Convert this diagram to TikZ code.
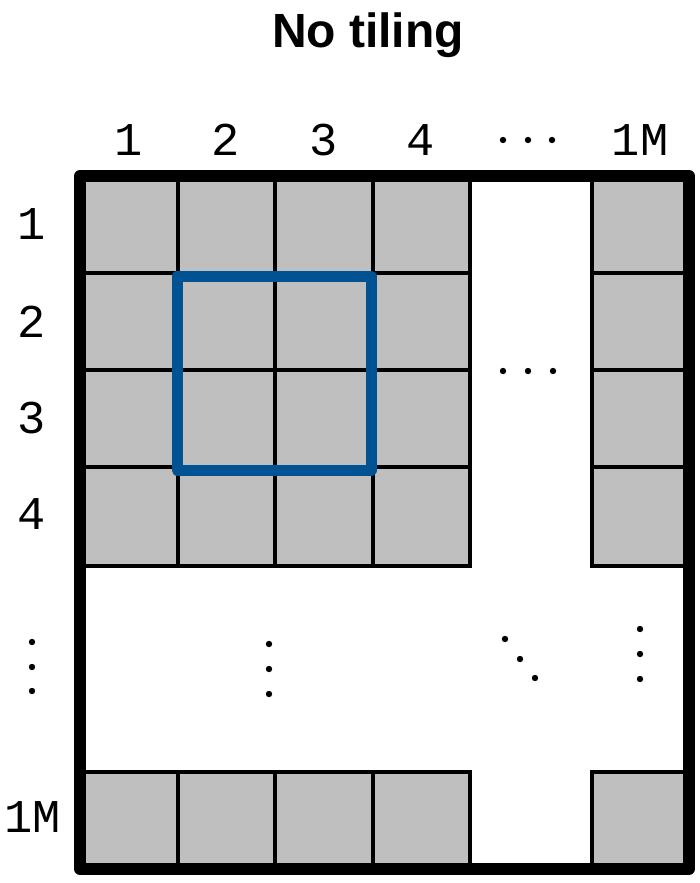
\documentclass[tikz,border=0pt]{standalone}
\usepackage{fontspec}
\setmainfont{Liberation Sans}
\setmonofont{Liberation Mono}
\definecolor{tileblue}{RGB}{0,82,147}
\definecolor{cellgray}{RGB}{191,191,191}
\begin{document}
\begin{tikzpicture}[x=1pt,y=-1pt,
  cell/.style={fill=cellgray,draw=black,line width=3.5pt},
  lbl/.style={font=\fontsize{47}{52}\selectfont\ttfamily,inner sep=0pt,anchor=base}]
\useasboundingbox (0,0) rectangle (699,883);
\node[font=\fontsize{48}{54}\selectfont\bfseries,inner sep=0pt,anchor=base] (title) at (368,48) {No tiling};
\foreach \xa/\xb in {80/178,178/275,275/373,373/470,592/689}
  \foreach \ya/\yb in {176/273,273/370,370/467,467/566,772/869}
    \filldraw[cell] (\xa,\ya) rectangle (\xb,\yb);
\draw[line width=12pt,line join=round] (80,176) rectangle (689,869);
\draw[tileblue,line width=11pt,line join=round] (177,276) rectangle (371,470);
\node[lbl] (c1) at (129,155) {1};
\node[lbl] (c2) at (226,155) {2};
\node[lbl] (c3) at (324,155) {3};
\node[lbl] (c4) at (421,155) {4};
\node[lbl] (cM) at (640,155) {1M};
\node[lbl] (r1) at (32,239) {1};
\node[lbl] (r2) at (32,337) {2};
\node[lbl] (r3) at (32,433) {3};
\node[lbl] (r4) at (32,529) {4};
\node[lbl] (rM) at (33,832) {1M};
\foreach \px/\py in {503/140,528/140,552/140, 503/371,528/371,553/371,
    32/642,32/667,32/691, 269/644,269/669,269/694,
    505/639,520/659,535/678, 640/629,640/654,640/679}
  \fill (\px,\py) circle (3.2pt);
\end{tikzpicture}
\end{document}
